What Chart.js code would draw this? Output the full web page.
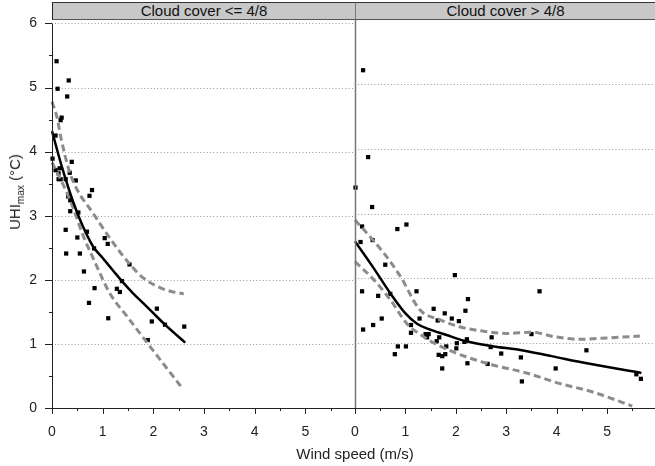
<!DOCTYPE html>
<html>
<head>
<meta charset="utf-8">
<script src="https://cdn.jsdelivr.net/npm/chart.js@4.4.0/dist/chart.umd.min.js"></script>
<style>
  body { margin:0; background:#fff; font-family:"Liberation Sans", Arial, sans-serif; }
  #wrap { position:relative; width:655px; height:466px; overflow:hidden; }
  canvas { position:absolute; top:0; }
  .strip { position:absolute; top:2px; height:18px; box-sizing:border-box; background:#c8c8c8;
           border-top:1px solid #333; border-bottom:1px solid #555; font-size:15px; line-height:16px;
           text-align:center; color:#111; }
  #yTitle { position:absolute; left:16px; top:192px; transform:translate(-50%,-50%) rotate(-90deg);
            white-space:nowrap; font-size:15px; color:#222; }
  #yTitle sub { font-size:10px; }
  #xTitle { position:absolute; left:355px; top:453px; transform:translate(-50%,-50%);
            white-space:nowrap; font-size:15px; color:#222; }
</style>
</head>
<body>
<div id="wrap">
  <canvas id="left" width="356" height="466" style="left:0"></canvas>
  <canvas id="right" width="315" height="466" style="left:340px"></canvas>
  <div class="strip" style="left:52px; width:303px; border-left:1px solid #222;">Cloud cover &lt;= 4/8</div>
  <div class="strip" style="left:355px; width:300px; border-left:1px solid #777;">Cloud cover &gt; 4/8</div>
  <div id="yTitle">UHI<sub>max</sub> (°C)</div>
  <div id="xTitle">Wind speed (m/s)</div>
</div>
<script>
// ---- data ----
const xTickLabels = [0, 1, 2, 3, 4, 5];
const yTickLabels = [0, 1, 2, 3, 4, 5, 6];
const yGridLines = [1, 2, 3, 4, 5, 6];

// cloud cover <= 4/8
const leftWind = [0.09,0.33,0.11,0.30,0.19,0.17,0.07,0.01,0.39,0.07,0.15,0.13,0.35,0.13,0.17,0.27,0.47,0.79,0.74,0.32,
                  0.36,0.36,0.52,0.27,0.69,0.50,1.04,1.10,0.83,0.28,0.55,1.53,0.63,1.38,0.84,1.28,1.34,0.73,2.07,1.11,
                  1.97,2.23,2.61,1.89];
const leftUhi  = [5.41,5.11,4.98,4.86,4.53,4.49,4.25,3.89,3.84,3.71,3.74,3.66,3.67,3.57,3.57,3.57,3.55,3.40,3.31,3.30,
                  3.24,3.07,3.05,2.78,2.75,2.66,2.65,2.56,2.49,2.41,2.41,2.24,2.13,1.98,1.87,1.86,1.81,1.64,1.55,1.40,
                  1.35,1.30,1.27,1.06];
const leftFitX   = [0, 0.2, 0.42, 0.6, 0.81, 1.0, 1.2, 1.38, 1.6, 1.82, 2.0, 2.23, 2.4, 2.63];
const leftFit    = [4.32, 3.75, 3.21, 2.85, 2.52, 2.34, 2.15, 1.98, 1.79, 1.62, 1.48, 1.30, 1.18, 1.02];
const leftUpX    = [0, 0.1, 0.17, 0.34, 0.5, 0.8, 1.15, 1.55, 1.8, 2.15, 2.4, 2.6];
const leftUp     = [4.78, 4.53, 4.24, 3.70, 3.40, 3.05, 2.64, 2.23, 2.03, 1.87, 1.81, 1.78];
const leftLoX    = [0, 0.15, 0.38, 0.6, 0.85, 1.14, 1.5, 1.75, 2.1, 2.55];
const leftLo     = [3.83, 3.60, 3.20, 2.72, 2.27, 1.79, 1.41, 1.15, 0.79, 0.33];

// cloud cover > 4/8
const rightWind = [0.16,0.26,0.01,0.34,0.14,0.84,1.02,0.11,0.35,0.60,1.98,0.14,0.70,1.22,0.46,2.24,3.66,1.56,1.78,2.19,
                   0.53,1.28,1.64,1.92,2.06,0.16,0.36,1.11,1.11,1.40,1.46,1.43,1.67,1.62,2.71,3.50,2.02,2.17,2.22,0.85,
                   1.01,1.81,2.01,2.69,0.79,1.66,1.73,1.79,2.90,3.29,4.59,2.23,2.63,1.73,3.98,3.31,5.58,5.67];
const rightUhi  = [5.21,3.87,3.40,3.10,2.80,2.76,2.83,2.56,2.59,2.21,2.05,1.80,1.76,1.80,1.73,1.68,1.80,1.53,1.46,1.50,
                   1.38,1.38,1.35,1.38,1.34,1.21,1.28,1.28,1.16,1.14,1.14,1.09,1.09,1.03,1.09,1.14,1.00,1.02,1.06,0.95,
                   0.95,0.95,0.92,0.94,0.83,0.82,0.80,0.83,0.84,0.78,0.89,0.69,0.68,0.61,0.61,0.41,0.52,0.45];
const rightFitX = [0, 0.35, 0.7, 1.0, 1.23, 1.45, 1.8, 2.2, 2.75, 3.25, 3.9, 4.6, 5.68];
const rightFit  = [2.57, 2.18, 1.77, 1.46, 1.30, 1.22, 1.13, 1.03, 0.95, 0.90, 0.80, 0.69, 0.54];
const rightUpX  = [0, 0.3, 0.57, 0.9, 1.29, 1.69, 2.09, 2.5, 3.0, 3.5, 3.95, 4.45, 5.0, 5.65];
const rightUp   = [2.90, 2.64, 2.39, 2.03, 1.51, 1.36, 1.25, 1.19, 1.15, 1.17, 1.10, 1.06, 1.08, 1.11];
const rightLoX  = [0, 0.37, 0.7, 1.03, 1.36, 1.7, 2.2, 2.75, 3.4, 4.05, 4.7, 5.5];
const rightLo   = [2.26, 1.98, 1.67, 1.30, 1.10, 0.95, 0.79, 0.66, 0.54, 0.38, 0.25, 0.03];

Chart.defaults.font.family = '"Liberation Sans", Arial, sans-serif';
Chart.defaults.font.size = 14;
Chart.defaults.color = '#222';

const pairs = (xs, ys) => xs.map((x, i) => ({ x: x, y: ys[i] }));

// dotted grid, axis lines and tick marks (major on integers, minor halfway)
const panelDeco = {
  id: 'panelDeco',
  beforeDatasetsDraw(chart) {
    const { ctx, chartArea: a, scales: { y } } = chart;
    ctx.save();
    ctx.strokeStyle = '#999';
    ctx.lineWidth = 1;
    ctx.setLineDash([1, 2.3]);
    yGridLines.forEach(v => {
      const py = Math.round(y.getPixelForValue(v)) + 0.5;
      ctx.beginPath(); ctx.moveTo(a.left + 3, py); ctx.lineTo(a.right, py); ctx.stroke();
    });
    ctx.restore();
  },
  afterDraw(chart, args, opts) {
    const { ctx, chartArea: a, scales: { x, y } } = chart;
    ctx.save();
    // bottom axis
    ctx.strokeStyle = '#222';
    ctx.lineWidth = 1;
    ctx.beginPath(); ctx.moveTo(a.left, a.bottom + 0.5); ctx.lineTo(a.right, a.bottom + 0.5); ctx.stroke();
    for (let v = 0; v <= x.max + 1e-9; v += 0.5) {
      const px = Math.round(x.getPixelForValue(v)) + 0.5;
      const len = Number.isInteger(v) ? 6 : 3;
      ctx.beginPath(); ctx.moveTo(px, a.bottom); ctx.lineTo(px, a.bottom + len); ctx.stroke();
    }
    // left border
    ctx.strokeStyle = opts.borderColor;
    ctx.lineWidth = opts.borderWidth;
    ctx.beginPath(); ctx.moveTo(a.left + 0.5, a.top); ctx.lineTo(a.left + 0.5, a.bottom); ctx.stroke();
    if (opts.yTicks) {
      ctx.strokeStyle = '#222';
      ctx.lineWidth = 1;
      for (let v = 0; v <= y.max + 1e-9; v += 0.5) {
        const py = Math.round(y.getPixelForValue(v)) + 0.5;
        const len = Number.isInteger(v) ? 7 : 3;
        ctx.beginPath(); ctx.moveTo(a.left - len, py); ctx.lineTo(a.left, py); ctx.stroke();
      }
    }
    ctx.restore();
  }
};

function makePanel(id, pts, fit, up, lo, xMax, showY, padLeft, deco) {
  const dashed = { borderColor: '#8c8c8c', borderWidth: 3, borderDash: [7, 4] };
  return new Chart(document.getElementById(id), {
    type: 'scatter',
    data: {
      datasets: [
        { data: fit, showLine: true, borderColor: '#000', borderWidth: 2.5, pointRadius: 0, clip: false, cubicInterpolationMode: 'monotone' },
        Object.assign({ data: up, showLine: true, pointRadius: 0, clip: false, cubicInterpolationMode: 'monotone' }, dashed),
        Object.assign({ data: lo, showLine: true, pointRadius: 0, clip: false, cubicInterpolationMode: 'monotone' }, dashed),
        { data: pts, pointStyle: 'rect', pointRadius: 3, pointBorderWidth: 0, backgroundColor: '#000', clip: false }
      ]
    },
    options: {
      responsive: false,
      animation: false,
      layout: { padding: { top: 19, left: padLeft, right: 0, bottom: 0 }, autoPadding: false },
      plugins: { legend: { display: false }, tooltip: { enabled: false }, panelDeco: deco },
      scales: {
        x: {
          type: 'linear', min: 0, max: xMax,
          grid: { display: false, drawTicks: true, tickLength: 16, tickColor: 'rgba(0,0,0,0)' },
          border: { display: false },
          afterBuildTicks: s => { s.ticks = xTickLabels.map(v => ({ value: v })); },
          afterFit: s => { s.height = 58; },
          ticks: { autoSkip: false, maxRotation: 0, padding: 0 }
        },
        y: {
          type: 'linear', min: 0, max: 6, display: showY,
          grid: { display: false, drawTicks: false },
          border: { display: false },
          afterBuildTicks: s => { s.ticks = yTickLabels.map(v => ({ value: v })); },
          afterFit: s => { s.width = showY ? 52 : 0; },
          ticks: { padding: 15 }
        }
      }
    },
    plugins: [panelDeco]
  });
}

makePanel('left', pairs(leftWind, leftUhi), pairs(leftFitX, leftFit), pairs(leftUpX, leftUp), pairs(leftLoX, leftLo),
          6, true, 0, { borderColor: '#222', borderWidth: 1, yTicks: true });
makePanel('right', pairs(rightWind, rightUhi), pairs(rightFitX, rightFit), pairs(rightUpX, rightUp), pairs(rightLoX, rightLo),
          5.95, false, 15, { borderColor: '#777', borderWidth: 1.5, yTicks: false });
</script>
</body>
</html>
